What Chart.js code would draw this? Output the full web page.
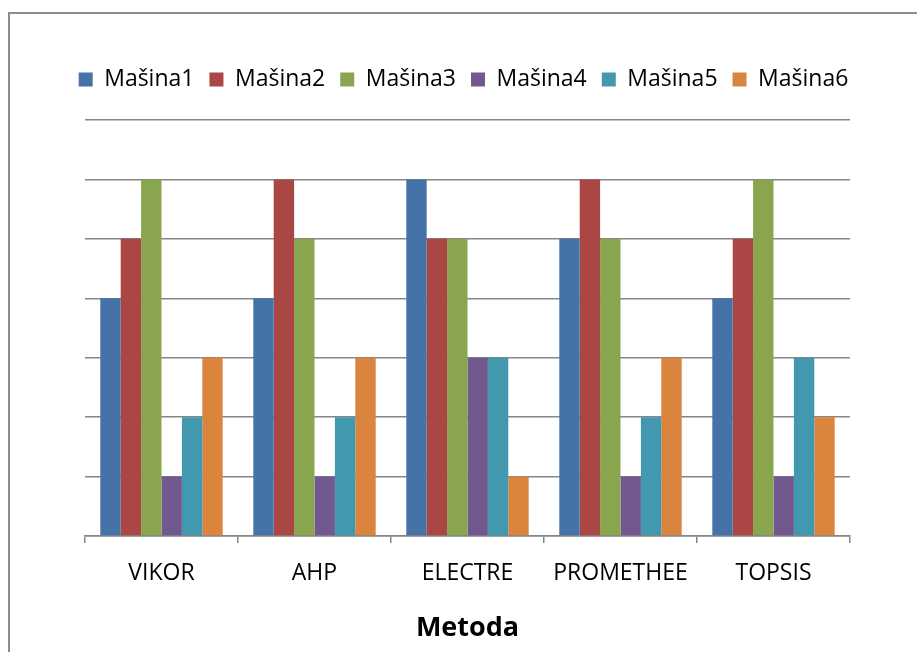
<!DOCTYPE html>
<html>
<head>
<meta charset="utf-8">
<script src="https://cdn.jsdelivr.net/npm/chart.js@4/dist/chart.umd.min.js"></script>
<style>
  html, body { margin: 0; padding: 0; background: #fff; overflow: hidden; }
  #wrap { position: relative; width: 917px; height: 652px; }
  #frame { position: absolute; left: 8px; top: 12px; width: 1000px; height: 800px;
           border: 2px solid #8c8c8c; box-sizing: border-box; pointer-events: none; }
</style>
</head>
<body>
<div id="wrap">
  <canvas id="c" width="917" height="652"></canvas>
  <div id="frame"></div>
</div>
<script>
const methods = ["VIKOR", "AHP", "ELECTRE", "PROMETHEE", "TOPSIS"];
const seriesNames = ["Mašina1", "Mašina2", "Mašina3", "Mašina4", "Mašina5", "Mašina6"];
const masina1 = [4, 4, 6, 5, 4];
const masina2 = [5, 6, 5, 6, 5];
const masina3 = [6, 5, 5, 5, 6];
const masina4 = [1, 1, 3, 1, 1];
const masina5 = [2, 2, 3, 2, 3];
const masina6 = [3, 3, 1, 3, 2];
const colors = ["#4572A7", "#AA4643", "#89A54E", "#71588F", "#4198AF", "#DB843D"];

const allSeries = [masina1, masina2, masina3, masina4, masina5, masina6];
const font = "'Open Sans', Lato, sans-serif";

// extra room under the legend, like the original
const legendGap = {
  id: "legendGap",
  beforeInit(chart) {
    const fit = chart.legend.fit;
    chart.legend.fit = function () { fit.bind(chart.legend)(); this.height += 19; };
  }
};

new Chart(document.getElementById("c"), {
  type: "bar",
  data: {
    labels: methods,
    datasets: allSeries.map((d, i) => ({
      label: seriesNames[i],
      data: d,
      backgroundColor: colors[i],
      categoryPercentage: 0.8,
      barPercentage: 1.0
    }))
  },
  options: {
    responsive: false,
    animation: false,
    layout: { padding: { left: 15, right: 5, top: 53, bottom: 3 } },
    plugins: {
      legend: {
        position: "top",
        labels: {
          boxWidth: 14, boxHeight: 14, padding: 15,
          color: "#000",
          font: { family: font, size: 23 }
        }
      },
      tooltip: { enabled: false }
    },
    scales: {
      x: {
        grid: { offset: true, drawOnChartArea: false, drawTicks: true, tickLength: 7, color: "#868686", lineWidth: 1.5 },
        border: { display: true, color: "#868686", width: 1.5 },
        ticks: { color: "#000", font: { family: font, size: 23 }, padding: 17 },
        title: { display: true, text: "Metoda", color: "#000", font: { family: font, size: 27, weight: "bold" }, padding: { top: 8 } }
      },
      y: {
        min: 0, max: 7,
        ticks: { display: false, stepSize: 1 },
        grid: { drawTicks: false, color: "#868686", lineWidth: 1.5 },
        border: { display: false },
        afterFit(s) { s.width = 70; }
      },
      yRight: {
        position: "right",
        min: 0, max: 7,
        ticks: { display: false },
        grid: { display: false },
        border: { display: false },
        afterFit(s) { s.width = 62; }
      }
    }
  },
  plugins: [legendGap]
});
</script>
</body>
</html>
